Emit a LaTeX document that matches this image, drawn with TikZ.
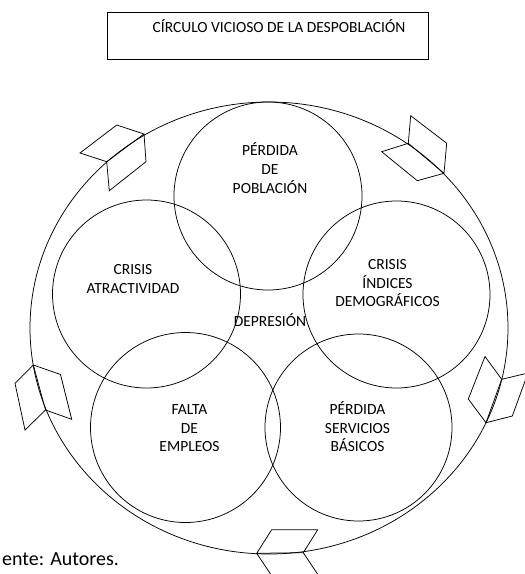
\documentclass[tikz,border=0pt]{standalone}
\usepackage{fontspec}
\setmainfont{Carlito}
\usetikzlibrary{shapes.geometric}
\begin{document}
\begin{tikzpicture}[x=1pt,y=-1pt,
  line/.style={draw=black, line width=0.75pt},
  ring/.style={circle, line, inner sep=0pt},
  lbl/.style={align=center, font=\fontsize{15.5}{18.7}\selectfont, inner sep=0pt, anchor=base},
  fold/.style={line, line join=miter}]
\useasboundingbox (0,0) rectangle (525,574);
\clip (0,0) rectangle (525,574);

% title
\node[line, anchor=north west, minimum width=321pt, minimum height=47pt, inner sep=0pt] (titlebox) at (107,12) {};
\node[lbl] (titletext) at (279,32) {CÍRCULO VICIOSO DE LA DESPOBLACIÓN};

% outer cycle
\node[ellipse, line, minimum width=478pt, minimum height=452pt, inner sep=0pt] (outer) at (269,328) {};

% the five overlapping circles
\node[ring, minimum size=188pt] (pop) at (268,196) {};
\node[ring, minimum size=188pt] (atr) at (146.5,294) {};
\node[ring, minimum size=187pt] (dem) at (396.5,294.5) {};
\node[ring, minimum size=190pt] (emp) at (185.5,427.5) {};
\node[ring, minimum size=187pt] (ser) at (358.5,427.5) {};

% labels (positioned by the baseline of their last line)
\node[lbl] (popT) at (270,193.3) {PÉRDIDA\\DE\\POBLACIÓN};
\node[lbl] (atrT) at (133,293.3) {CRISIS\\ATRACTIVIDAD};
\node[lbl] (demT) at (387.5,306.7) {CRISIS\\ÍNDICES\\DEMOGRÁFICOS};
\node[lbl] (depT) at (270,326.7) {DEPRESIÓN};
\node[lbl] (empT) at (189.5,451.7) {FALTA\\DE\\EMPLEOS};
\node[lbl] (serT) at (357.5,451.7) {PÉRDIDA\\SERVICIOS\\BÁSICOS};

% folded arrow marks on the outer cycle
\draw[fold] (106.7,161.7) -- (80,153) -- (116.7,125) -- (144,134) -- cycle;
\draw[fold] (106.7,161.7) -- (109.3,190.7) -- (146,161.7) -- (144,134);

\draw[fold] (408.3,143.3) -- (410.7,115.7) -- (446.7,143.3) -- (444,173.3) -- cycle;
\draw[fold] (408.3,143.3) -- (381.7,151.7) -- (417.3,180.7) -- (444,173.3);

\draw[fold] (33.3,365) -- (15,383.3) -- (25,430) -- (45.5,410) -- cycle;
\draw[fold] (33.3,365) -- (60.5,374.5) -- (71.7,419.3) -- (45.5,410);

\draw[fold] (501.7,379.3) -- (485,356.5) -- (468.3,399) -- (486,422.7) -- cycle;
\draw[fold] (501.7,379.3) -- (528,373) -- (512.3,416) -- (486,422.7);

\draw[fold] (256.7,553.3) -- (271.7,529.7) -- (317.7,529.7) -- (303.3,552.7) -- cycle;
\draw[fold] (256.7,553.3) -- (272.7,577.3) -- (319.3,576.7) -- (303.3,552.7);

% source note
\node[anchor=base west, inner sep=0pt, font=\fontsize{20}{24}\selectfont] (source) at (2,565) {ente: Autores.};
\end{tikzpicture}
\end{document}
